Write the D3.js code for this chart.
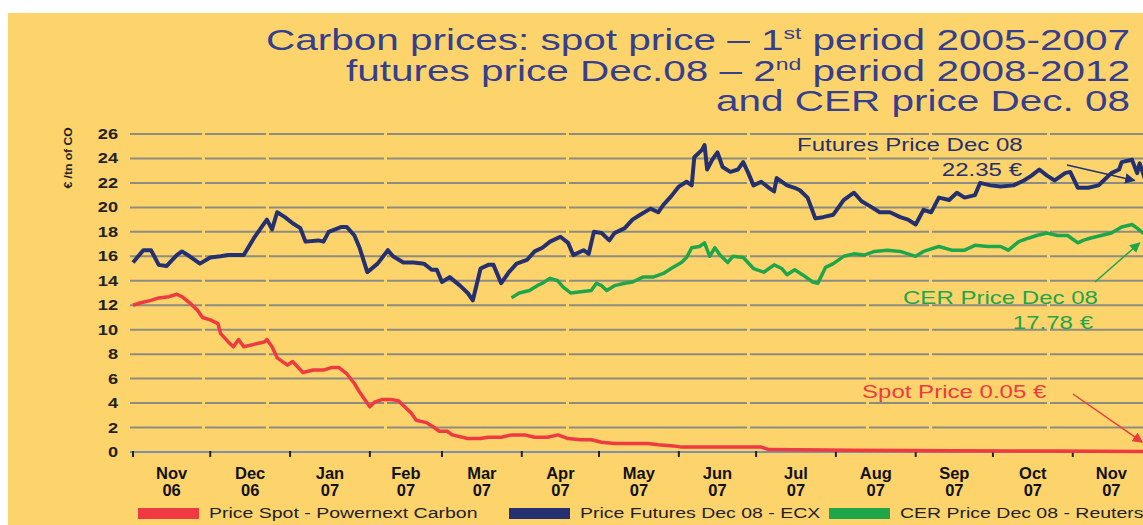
<!DOCTYPE html>
<meta charset="utf-8">
<style>
  body { margin: 0; background: #fff; }
  text { font-family: "Liberation Sans", Arial, sans-serif; }
</style>
<script src="https://d3js.org/d3.v7.min.js"></script>
<div id="chart"></div>
<script>
// days counted from 1 Nov 2006, price in EUR per tonne of CO2
var startDate = new Date(2006, 10, 1);

var spotPrice = [[0,12.0],[3,12.2],[7,12.4],[10,12.6],[14,12.7],[17,12.9],[19,12.7],[22,12.2],[25,11.6],[27,11.0],
  [30,10.8],[33,10.5],[34,9.7],[37,9.0],[39,8.6],[41,9.2],[43,8.6],[47,8.8],[51,9.0],[52,9.2],[54,8.6],[56,7.7],
  [60,7.1],[62,7.4],[66,6.5],[70,6.7],[74,6.7],[77,6.9],[80,6.9],[83,6.4],[86,5.6],[88,4.9],[90,4.3],[92,3.7],
  [94,4.1],[97,4.3],[100,4.3],[103,4.2],[105,3.8],[108,3.2],[110,2.6],[114,2.4],[117,2.0],[119,1.7],[122,1.7],
  [124,1.4],[130,1.1],[135,1.1],[138,1.2],[143,1.2],[147,1.4],[152,1.4],[156,1.2],[161,1.2],[165,1.4],[169,1.1],
  [174,1.0],[178,1.0],[182,0.8],[187,0.7],[200,0.7],[204,0.6],[210,0.5],[213,0.4],[244,0.4],[247,0.2],[279,0.15],
  [318,0.1],[357,0.08],[393,0.05]];

var futuresPrice = [[0,15.5],[4,16.5],[7,16.5],[10,15.3],[13,15.2],[17,16.1],[19,16.4],[22,16.0],[26,15.4],[30,15.9],
  [34,16.0],[37,16.1],[43,16.1],[47,17.5],[50,18.4],[52,19.0],[54,18.2],[56,19.6],[59,19.2],[62,18.7],[65,18.3],
  [67,17.2],[72,17.3],[74,17.2],[76,18.0],[81,18.4],[83,18.4],[86,17.7],[88,16.7],[91,14.7],[95,15.4],[99,16.5],
  [101,16.0],[105,15.5],[109,15.5],[113,15.4],[116,14.9],[118,14.9],[120,13.9],[123,14.3],[127,13.6],[130,13.0],
  [132,12.4],[135,15.0],[138,15.3],[140,15.3],[143,13.8],[146,14.7],[149,15.4],[153,15.7],[156,16.4],[159,16.7],
  [162,17.2],[166,17.6],[169,17.1],[171,16.1],[175,16.5],[177,16.2],[179,18.0],[182,17.9],[185,17.3],[187,17.9],
  [191,18.3],[194,19.0],[197,19.4],[201,19.9],[204,19.6],[206,20.2],[209,20.9],[212,21.7],[215,22.1],[217,21.8],
  [218,24.1],[221,24.7],[222,25.1],[223,23.1],[225,23.9],[227,24.5],[229,23.3],[232,22.9],[235,23.1],[237,23.7],
  [239,22.8],[241,21.8],[244,22.1],[247,21.6],[249,21.3],[250,22.4],[254,21.8],[257,21.6],[259,21.4],[262,20.8],
  [265,19.1],[268,19.2],[272,19.4],[276,20.6],[280,21.2],[283,20.5],[287,20.0],[290,19.6],[294,19.6],[298,19.2],
  [301,19.0],[304,18.6],[307,19.8],[310,19.6],[313,20.8],[317,20.6],[320,21.2],[323,20.8],[327,21.0],[329,22.0],
  [333,21.8],[337,21.7],[342,21.8],[346,22.2],[349,22.6],[352,23.1],[355,22.6],[358,22.2],[362,22.8],[364,22.9],
  [367,21.6],[371,21.6],[375,21.8],[377,22.2],[380,22.8],[383,23.1],[384,23.7],[388,23.9],[390,22.8],[391,23.6],
  [393,22.35]];

var cerPrice = [[147,12.6],[150,13.0],[154,13.2],[157,13.6],[159,13.8],[162,14.2],[165,14.0],[167,13.5],[170,13.0],
  [174,13.1],[178,13.2],[180,13.8],[182,13.6],[184,13.2],[187,13.6],[191,13.8],[194,13.9],[198,14.3],[202,14.3],
  [206,14.6],[209,15.0],[213,15.5],[215,15.9],[217,16.7],[220,16.8],[222,17.1],[224,16.0],[226,16.7],[228,16.1],
  [231,15.5],[233,16.0],[237,15.9],[241,15.0],[245,14.7],[249,15.3],[252,15.0],[254,14.5],[257,14.9],[260,14.5],
  [264,13.9],[266,13.8],[269,15.1],[272,15.4],[276,16.0],[280,16.2],[284,16.1],[288,16.4],[293,16.5],[298,16.4],
  [304,16.0],[307,16.4],[313,16.8],[318,16.5],[323,16.5],[327,16.9],[332,16.8],[337,16.8],[340,16.5],[344,17.2],
  [348,17.5],[351,17.7],[355,17.9],[359,17.7],[363,17.7],[367,17.1],[369,17.3],[372,17.5],[376,17.7],[380,17.9],
  [384,18.4],[388,18.6],[390,18.3],[393,17.78]];

var monthLabels = ["Nov","Dec","Jan","Feb","Mar","Apr","May","Jun","Jul","Aug","Sep","Oct","Nov"];
var yearLabels  = ["06","06","07","07","07","07","07","07","07","07","07","07","07"];
var yTicks = [0,2,4,6,8,10,12,14,16,18,20,22,24,26];
var legendLabels = ["Price Spot - Powernext Carbon", "Price Futures Dec 08 - ECX", "CER Price Dec 08 - Reuters"];
var titleLines = [
  ["Carbon prices: spot price \u2013 1", "st", " period 2005-2007"],
  ["futures price Dec.08 \u2013 2", "nd", " period 2008-2012"],
  ["and CER price Dec. 08"]
];

var W = 1143, H = 525;
var stretch = 1.3;   // the original artwork is widened horizontally
var red = "#ee3a40", navy = "#24306f", green = "#1fa64b", ink = "#363f8d";

var svg = d3.select("#chart").append("svg")
  .attr("width", W).attr("height", H);

svg.append("rect").attr("x", 8).attr("y", 13)
  .attr("width", W - 8).attr("height", H - 13).attr("fill", "#fdd46c");

var x = d3.scaleTime()
  .domain([startDate, new Date(2007, 11, 1)])
  .range([133, 1150]);
var y = d3.scaleLinear().domain([0, 26]).range([452, 134]);
var day = function(n) { return d3.timeDay.offset(startDate, n); };

// helper for the widened text
function wideText(g, tx, ty, anchor, sx) {
  return g.append("text")
    .attr("transform", "translate(" + tx + "," + ty + ") scale(" + (sx || stretch) + ",1)")
    .attr("text-anchor", anchor || "start");
}

// title
titleLines.forEach(function(parts, i) {
  var t = wideText(svg, 1130, 50 + i * 30.5, "end", 1.35)
    .attr("font-size", 30).attr("fill", ink);
  t.append("tspan").text(parts[0]);
  if (parts.length > 1) {
    t.append("tspan").attr("font-size", 17).attr("dy", -11).text(parts[1]);
    t.append("tspan").attr("dy", 11).text(parts[2]);
  }
});

// grid lines (the broken pattern comes from the scanned original)
svg.append("g").selectAll("line")
  .data(yTicks.filter(function(d) { return d > 0; }))
  .join("line")
    .attr("x1", 130).attr("x2", W)
    .attr("y1", function(d) { return y(d); })
    .attr("y2", function(d) { return y(d); })
    .attr("stroke", "#8e8b80").attr("stroke-width", 2)
    .attr("stroke-dasharray", "72 3 61 3 115 3 179 3 178 3 116 3 60 3 115 3 200");

// y tick labels
yTicks.forEach(function(v) {
  wideText(svg, 118, y(v) + 5, "end")
    .attr("font-size", 14).attr("font-weight", "bold").attr("fill", "#222")
    .text(v);
});

// y axis title
svg.append("text")
  .attr("transform", "translate(72,158) rotate(-90) scale(1.1,1)")
  .attr("text-anchor", "middle")
  .attr("font-size", 11).attr("font-weight", "bold").attr("fill", "#222")
  .text("\u20ac /tn of CO");

// x axis
svg.append("line")
  .attr("x1", 130).attr("x2", W).attr("y1", y(0)).attr("y2", y(0))
  .attr("stroke", "#7f90aa").attr("stroke-width", 2);

var months = d3.timeMonth.range(startDate, new Date(2007, 11, 1));
svg.append("g").selectAll("line")
  .data(months)
  .join("line")
    .attr("x1", function(d) { return x(d); })
    .attr("x2", function(d) { return x(d); })
    .attr("y1", y(0) - 1).attr("y2", y(0) + 5)
    .attr("stroke", "#222").attr("stroke-width", 2);

months.forEach(function(m, i) {
  var mid = (x(m) + x(d3.timeMonth.offset(m, 1))) / 2;
  var t = svg.append("text").attr("text-anchor", "middle")
    .attr("font-size", 16.5).attr("font-weight", "bold").attr("fill", "#111");
  t.append("tspan").attr("x", mid).attr("y", 479).text(monthLabels[i]);
  t.append("tspan").attr("x", mid).attr("y", 496).text(yearLabels[i]);
});

// price lines
var line = d3.line()
  .x(function(d) { return x(day(d[0])); })
  .y(function(d) { return y(d[1]); });

var plot = svg.append("g");
plot.append("path").datum(spotPrice).attr("d", line)
  .attr("fill", "none").attr("stroke", red).attr("stroke-width", 3.5).attr("stroke-linejoin", "round");
plot.append("path").datum(futuresPrice).attr("d", line)
  .attr("fill", "none").attr("stroke", navy).attr("stroke-width", 4).attr("stroke-linejoin", "round");
plot.append("path").datum(cerPrice).attr("d", line)
  .attr("fill", "none").attr("stroke", green).attr("stroke-width", 3.5).attr("stroke-linejoin", "round");

// annotations with arrows
var defs = svg.append("defs");
[["arrNavy", navy], ["arrGreen", green], ["arrRed", red]].forEach(function(a) {
  defs.append("marker").attr("id", a[0])
    .attr("viewBox", "0 0 10 10").attr("refX", 9).attr("refY", 5)
    .attr("markerWidth", 7).attr("markerHeight", 7).attr("orient", "auto")
    .append("path").attr("d", "M0,0 L10,5 L0,10 z").attr("fill", a[1]);
});

var notes = [
  {color: navy, marker: "arrNavy", from: [1067, 165], tip: [389, 22.2],
   lines: [["Futures Price Dec 08", 797, 151, "start"], ["22.35 \u20ac", 1022, 176, "end"]]},
  {color: green, marker: "arrGreen", from: [1095, 282], tip: [391, 17.1],
   lines: [["CER Price Dec 08", 903, 304, "start"], ["17.78 \u20ac", 1093, 329, "end"]]},
  {color: red, marker: "arrRed", from: [1073, 394], tip: [392, 0.8],
   lines: [["Spot Price 0.05 \u20ac", 862, 398, "start"]]}
];

notes.forEach(function(n) {
  svg.append("line")
    .attr("x1", n.from[0]).attr("y1", n.from[1])
    .attr("x2", x(day(n.tip[0]))).attr("y2", y(n.tip[1]))
    .attr("stroke", n.color).attr("stroke-width", 1.5)
    .attr("marker-end", "url(#" + n.marker + ")");
  n.lines.forEach(function(l) {
    wideText(svg, l[1], l[2], l[3])
      .attr("font-size", 18.5).attr("fill", n.color).text(l[0]);
  });
});

// legend (the last label runs off the right edge, as in the original)
var legendColors = [red, navy, green];
var legendX = [138, 509, 829];
legendLabels.forEach(function(lab, i) {
  svg.append("rect")
    .attr("x", legendX[i]).attr("y", 508).attr("width", 61).attr("height", 11)
    .attr("fill", legendColors[i]);
  wideText(svg, legendX[i] + 71, 518, "start")
    .attr("font-size", 15).attr("fill", "#222").text(lab);
});
</script>
